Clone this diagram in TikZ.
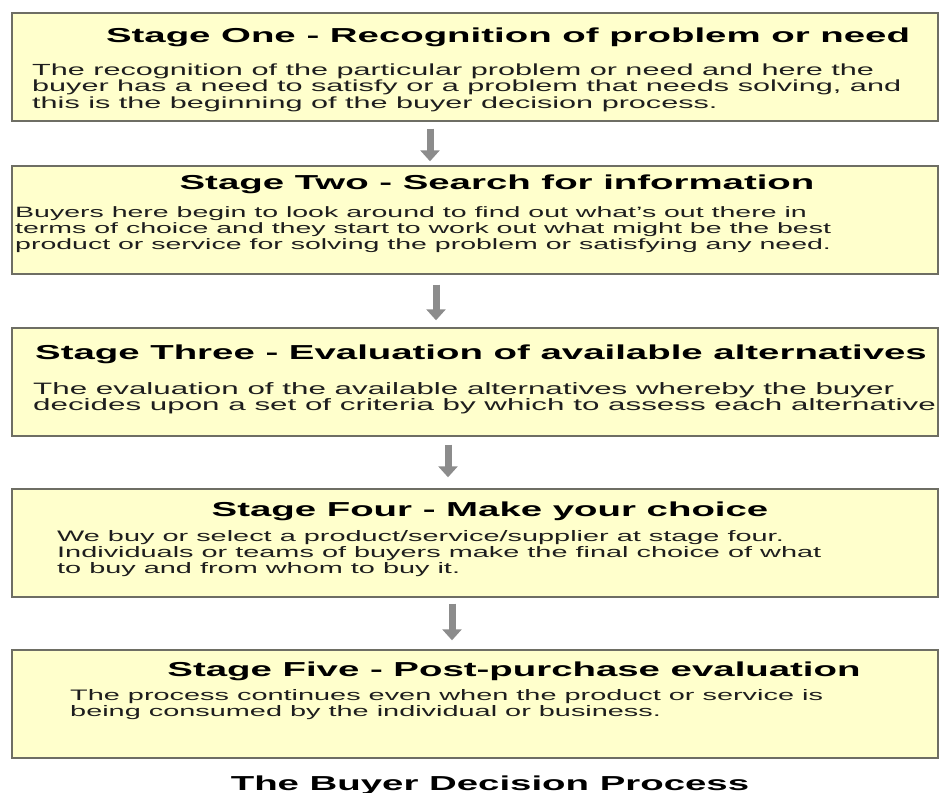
\documentclass[tikz,border=0pt]{standalone}
\usepackage{fontspec}
\setmainfont{Liberation Sans}[FakeStretch=1.9]
\usetikzlibrary{arrows.meta}

% Colors
\definecolor{boxfill}{RGB}{255,255,204}
\definecolor{boxline}{RGB}{110,110,100}
\definecolor{arrowgray}{RGB}{140,140,140}
\definecolor{bodytext}{RGB}{30,30,30}

\tikzset{
	stagebox/.style={draw=boxline, fill=boxfill, line width=1.4bp, minimum width=926bp, minimum height=108bp, inner sep=0pt},
	stagehead/.style={font=\fontsize{20.2bp}{22bp}\selectfont\bfseries, anchor=base, inner sep=0pt},
	stagetext/.style={font=\fontsize{#1}{16bp}\selectfont, text=bodytext, align=left, anchor=base west, inner sep=0pt},
	stagetext/.default=15.2bp,
	flowarrow/.style={draw=arrowgray, line width=7bp, -{Triangle[width=19bp,length=11bp]}}
}

\begin{document}
\begin{tikzpicture}[x=1bp,y=-1bp]
		\useasboundingbox (0,0) rectangle (940,793);
		
		% Draw the stage boxes
		\node[stagebox] (s1) at (475,67) {};
		\node[stagebox] (s2) at (475,220) {};
		\node[stagebox] (s3) at (475,382) {};
		\node[stagebox] (s4) at (475,543) {};
		\node[stagebox] (s5) at (475,704) {};
		
		% Stage One (text nodes sit on the baseline of their last line)
		\node[stagehead] (h1) at (508,43) {Stage One - Recognition of problem or need};
		\node[stagetext=16.1bp] (b1) at (32,108) {The recognition of the particular problem or need and here the\\
			buyer has a need to satisfy or a problem that needs solving, and\\
			this is the beginning of the buyer decision process.};
		
		% Stage Two
		\node[stagehead] (h2) at (497,189) {Stage Two - Search for information};
		\node[stagetext=15bp] (b2) at (15,249) {Buyers here begin to look around to find out what's out there in\\
			terms of choice and they start to work out what might be the best\\
			product or service for solving the problem or satisfying any need.};
		
		% Stage Three
		\node[stagehead] (h3) at (481,359) {Stage Three - Evaluation of available alternatives};
		\node[stagetext=16.5bp] (b3) at (33,410) {The evaluation of the available alternatives whereby the buyer\\
			decides upon a set of criteria by which to assess each alternative};
		
		% Stage Four
		\node[stagehead] (h4) at (490,516) {Stage Four - Make your choice};
		\node[stagetext] (b4) at (57,573) {We buy or select a product/service/supplier at stage four.\\
			Individuals or teams of buyers make the final choice of what\\
			to buy and from whom to buy it.};
		
		% Stage Five
		\node[stagehead] (h5) at (514,676) {Stage Five - Post-purchase evaluation};
		\node[stagetext] (b5) at (70,716) {The process continues even when the product or service is\\
			being consumed by the individual or business.};
		
		% Add arrows between stages
		\draw[flowarrow, shorten <=7bp, shorten >=4bp] ([xshift=-45bp]s1.south) -- ([xshift=-45bp]s2.north);
		\draw[flowarrow, shorten <=10bp, shorten >=7bp] ([xshift=-39bp]s2.south) -- ([xshift=-39bp]s3.north);
		\draw[flowarrow, shorten <=8bp, shorten >=11bp] ([xshift=-27bp]s3.south) -- ([xshift=-27bp]s4.north);
		\draw[flowarrow, shorten <=6bp, shorten >=9bp] ([xshift=-23bp]s4.south) -- ([xshift=-23bp]s5.north);
		
		% Caption
		\node[stagehead] (title) at (490,790) {The Buyer Decision Process};
\end{tikzpicture}
\end{document}
